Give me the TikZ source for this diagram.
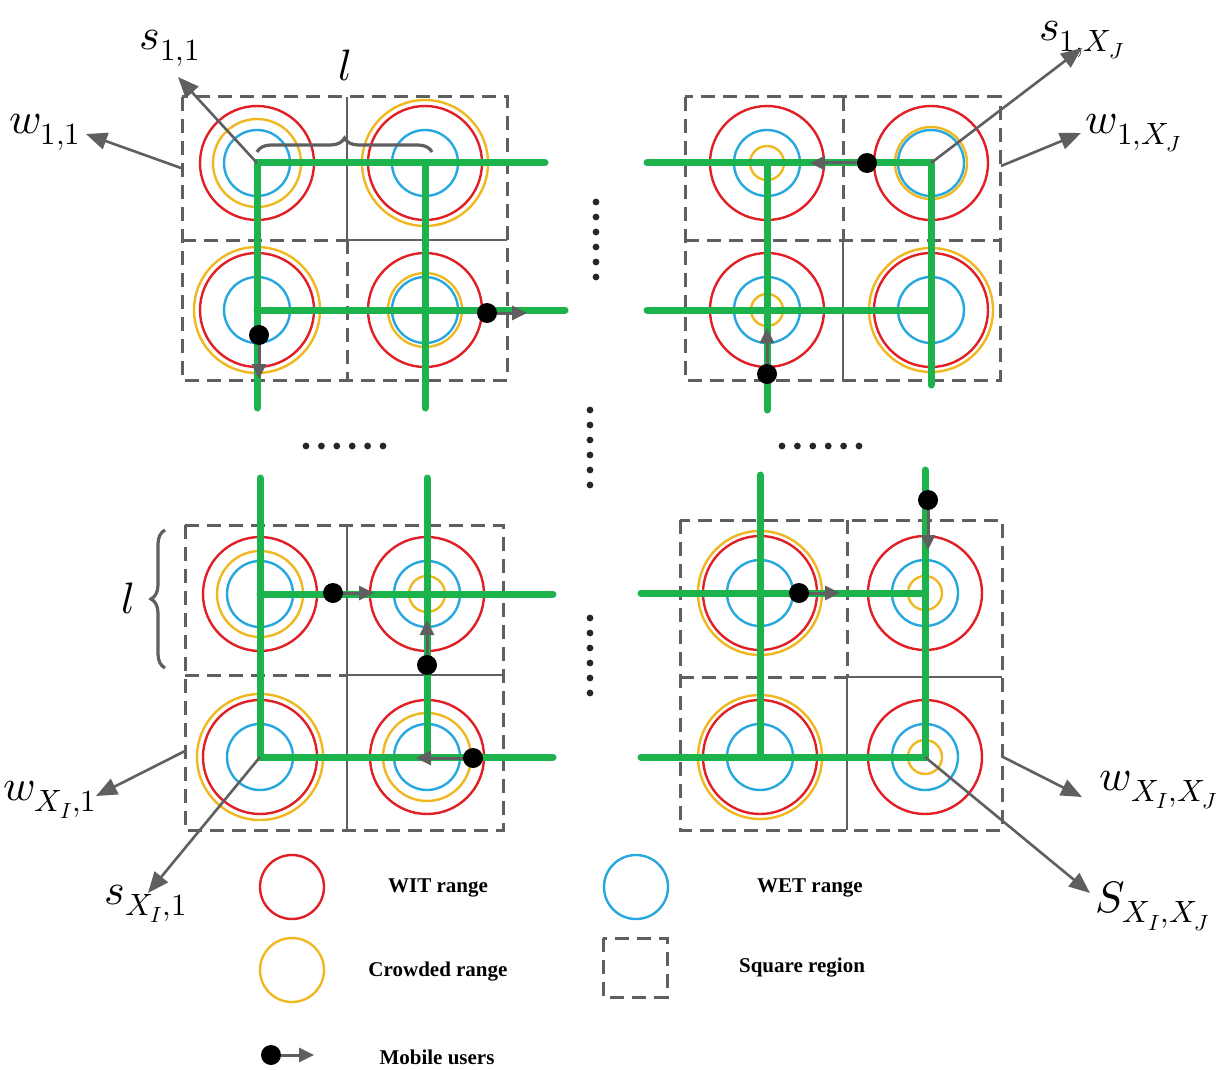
\documentclass[tikz,border=0pt]{standalone}
\usepackage{fontspec}
\usepackage{unicode-math}
\setmainfont{Liberation Serif}
\usetikzlibrary{arrows.meta,decorations.pathreplacing}

\definecolor{witred}{RGB}{225,32,38}
\definecolor{wetblue}{RGB}{38,168,222}
\definecolor{crowdyellow}{RGB}{240,184,32}
\definecolor{roadgreen}{RGB}{28,178,76}
\definecolor{linegray}{RGB}{95,95,95}

% three ranges around a station: WIT (red), crowded (yellow, given radius), WET (blue)
\newcommand{\rings}[2]{%
  \draw[wit] (#1) circle[radius=57pt];
  \draw[crowd] (#1) circle[radius=#2pt];
  \draw[wet] (#1) circle[radius=33pt];}

\begin{document}
\begin{tikzpicture}[x=1pt,y=-1pt,
  wit/.style={draw=witred,line width=2.4pt},
  wet/.style={draw=wetblue,line width=2.4pt},
  crowd/.style={draw=crowdyellow,line width=2.4pt},
  road/.style={draw=roadgreen,line width=7pt,line cap=round},
  region/.style={draw=linegray,line width=3pt,dash pattern=on 14pt off 8pt},
  cellline/.style={draw=linegray,line width=2.6pt},
  user/.style={circle,fill=black,inner sep=0pt,minimum size=20pt},
  move/.style={draw=linegray,line width=3pt,-{Triangle[length=15pt,width=14pt]}},
  pointer/.style={draw=linegray,line width=2.6pt,-{Triangle[length=21pt,width=17pt]}},
  lbl/.style={font=\fontsize{44}{48}\selectfont,inner sep=0pt},
  legend/.style={font=\fontsize{21}{24}\selectfont\bfseries,inner sep=0pt},
  brace/.style={draw=linegray,line width=3.2pt,decorate,decoration={brace,amplitude=14pt}},
  dot/.style={fill=black!85}
]
\fill[white] (0,0) rectangle (1221,1070);
\useasboundingbox (0,0) rectangle (1221,1070);

% ---------- station positions ----------
\coordinate (a11) at (257,163); \coordinate (a12) at (425,163);
\coordinate (a21) at (257,310); \coordinate (a22) at (425,310);
\coordinate (b11) at (767,163); \coordinate (b12) at (931,163);
\coordinate (b21) at (767,310); \coordinate (b22) at (931,310);
\coordinate (c11) at (260,594); \coordinate (c12) at (427,594);
\coordinate (c21) at (260,757); \coordinate (c22) at (427,757);
\coordinate (d11) at (760,593); \coordinate (d12) at (925,593);
\coordinate (d21) at (760,757); \coordinate (d22) at (925,757);

% ---------- square regions ----------
\draw[region] (182,97) rectangle (507,380);
\draw[region] (182,240) -- (347,240);
\draw[cellline] (347,240) -- (507,240);
\draw[cellline] (347,97) -- (347,240);
\draw[region] (347,240) -- (347,380);

\draw[region] (685,97) rectangle (1000,380);
\draw[region] (685,240) -- (1000,240);
\draw[region] (843,97) -- (843,240);
\draw[cellline] (843,240) -- (843,380);

\draw[region] (185,525) rectangle (503,830);
\draw[cellline] (347,525) -- (347,830);
\draw[region] (185,675) -- (347,675);
\draw[cellline] (347,675) -- (503,675);

\draw[region] (680,520) rectangle (1002,830);
\draw[region] (847,520) -- (847,677);
\draw[cellline] (847,677) -- (847,830);
\draw[region] (680,677) -- (847,677);
\draw[cellline] (847,677) -- (1002,677);

% ---------- ranges ----------
\rings{a11}{44} \rings{a12}{63} \rings{a21}{63} \rings{a22}{37}
\rings{b11}{17} \rings{b12}{36} \rings{b21}{16} \rings{b22}{62}
\rings{c11}{43} \rings{c12}{18} \rings{c21}{63} \rings{c22}{44}
\rings{d11}{62} \rings{d12}{17} \rings{d21}{62} \rings{d22}{17}

% ---------- roads ----------
\draw[road] (545,163) -- (a11) -- (257,408);
\draw[road] (a12) -- (425,408);
\draw[road] (a21) -- (565,310);

\draw[road] (647,163) -- (b12) -- (931,385);
\draw[road] (b11) -- (767,410);
\draw[road] (647,310) -- (b22);

\draw[road] (260,478) -- (c21) -- (553,757);
\draw[road] (427,478) -- (c22);
\draw[road] (c11) -- (553,594);

\draw[road] (641,593) -- (d12) -- (925,470);
\draw[road] (641,757) -- (d22) -- (d12);
\draw[road] (760,475) -- (d21);

% ---------- mobile users ----------
\node[user] (m1) at (259,335) {};  \coordinate (m1t) at (259,379);
\node[user] (m2) at (487,313) {};  \coordinate (m2t) at (527,313);
\node[user] (m3) at (867,163) {};  \coordinate (m3t) at (810,163);
\node[user] (m4) at (767,374) {};  \coordinate (m4t) at (767,328);
\node[user] (m5) at (333,593) {};  \coordinate (m5t) at (374,593);
\node[user] (m6) at (427,665) {};  \coordinate (m6t) at (427,620);
\node[user] (m7) at (473,758) {};  \coordinate (m7t) at (416,758);
\node[user] (m8) at (799,593) {};  \coordinate (m8t) at (840,593);
\node[user] (m9) at (928,500) {};  \coordinate (m9t) at (928,550);
\foreach \m in {1,...,9} \draw[move] (m\m) -- (m\m t);

% ---------- continuation dots ----------
\foreach \k in {0,...,5} {
  \fill[dot] (596,202+15*\k) circle[radius=3.4pt];
  \fill[dot] (590,410+15*\k) circle[radius=3.4pt];
  \fill[dot] (590,618+15*\k) circle[radius=3.4pt];
  \fill[dot] (306+15.4*\k,446) circle[radius=3.4pt];
  \fill[dot] (782+15.4*\k,446) circle[radius=3.4pt];
}

% ---------- side length braces ----------
\draw[brace] (257,152) -- (432,152);
\node[lbl] (ltop) at (345,65) {$l$};
\draw[brace] (165,668) -- (165,530);
\node[lbl] (lleft) at (128,598) {$l$};

% ---------- station and region labels ----------
\node[lbl] (s11) at (170,48) {$s_{1,1}$};
\node[lbl] (w11) at (45,132) {$w_{1,1}$};
\node[lbl] (s1J) at (1082,40) {$s_{1,X_J}$};
\node[lbl] (w1J) at (1134,133) {$w_{1,X_J}$};
\node[lbl] (wI1) at (50,800) {$w_{X_I,1}$};
\node[lbl] (sI1) at (146,904) {$s_{X_I,1}$};
\node[lbl] (wIJ) at (1159,790) {$w_{X_I,X_J}$};
\node[lbl] (sIJ) at (1153,906) {$S_{X_I,X_J}$};

\coordinate (s11t) at (178,77);   \draw[pointer] (a11) -- (s11t);
\coordinate (w11f) at (181,168);  \coordinate (w11t) at (86,134);  \draw[pointer] (w11f) -- (w11t);
\coordinate (s1Jt) at (1082,48);  \draw[pointer] (b12) -- (s1Jt);
\coordinate (w1Jf) at (1001,166); \coordinate (w1Jt) at (1081,133); \draw[pointer] (w1Jf) -- (w1Jt);
\coordinate (wI1f) at (185,751);  \coordinate (wI1t) at (96,796);  \draw[pointer] (wI1f) -- (wI1t);
\coordinate (sI1t) at (148,893);  \draw[pointer] (c21) -- (sI1t);
\coordinate (wIJf) at (1003,757); \coordinate (wIJt) at (1082,797); \draw[pointer] (wIJf) -- (wIJt);
\coordinate (sIJt) at (1090,893); \draw[pointer] (d22) -- (sIJt);

% ---------- legend ----------
\draw[wit] (292,887) circle[radius=32pt];
\node[legend] (tw) at (438,888) {WIT range};
\draw[wet] (636,887) circle[radius=32pt];
\node[legend] (te) at (810,888) {WET range};
\draw[crowd] (292,970) circle[radius=32pt];
\node[legend] (tc) at (438,972) {Crowded range};
\draw[region] (603,938) rectangle (667,997);
\node[legend] (ts) at (802,968) {Square region};
\node[user] (lm) at (271,1055) {};
\coordinate (lmt) at (314,1055);
\draw[move] (lm) -- (lmt);
\node[legend] (tm) at (437,1057) {Mobile users};
\end{tikzpicture}
\end{document}
